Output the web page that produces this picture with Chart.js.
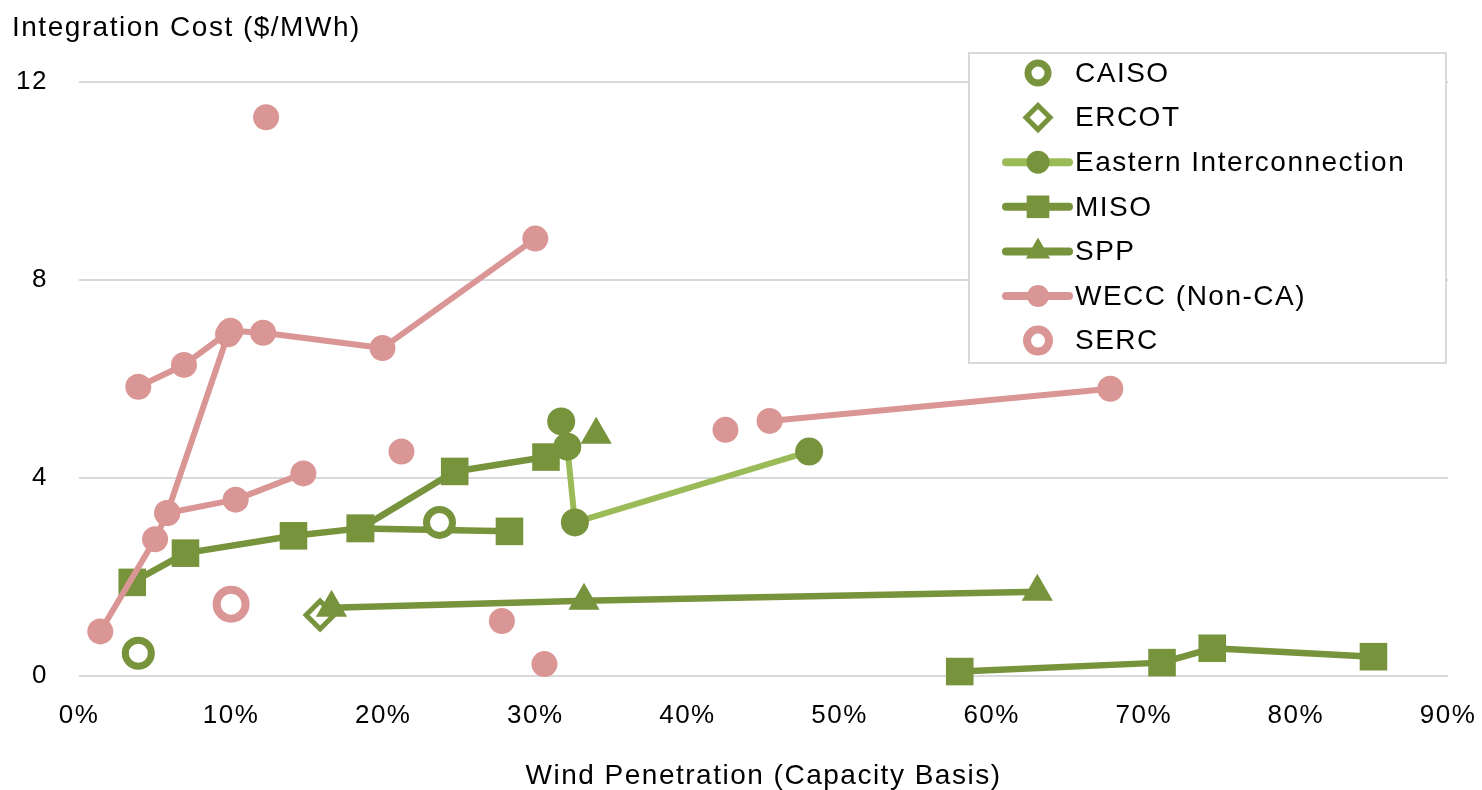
<!DOCTYPE html>
<html>
<head>
<meta charset="utf-8">
<title>Wind Integration Cost</title>
<script src="https://cdn.jsdelivr.net/npm/chart.js"></script>
<style>
  html, body { margin: 0; padding: 0; background: #fff; }
</style>
</head>
<body>
<canvas id="costChart" width="1482" height="790"></canvas>
<script>
// Wind penetration (% of capacity) vs integration cost ($/MWh), one array per study

var xTicks = [0, 10, 20, 30, 40, 50, 60, 70, 80, 90];
var yTicks = [0, 4, 8, 12];

var seriesNames = ['CAISO', 'ERCOT', 'Eastern Interconnection', 'MISO', 'SPP', 'WECC (Non-CA)', 'SERC'];

var caisoPoints = [[3.9, 0.46], [23.7, 3.10]];
var ercotPoints = [[15.85, 1.23]];

var easternLine = [[32.1, 4.63], [32.6, 3.10], [48.0, 4.53]];
var easternSolo = [[31.7, 5.14]];

var misoStudyA = [[3.5, 1.89], [7.0, 2.48], [14.1, 2.83], [18.5, 2.98], [28.3, 2.92]];
var misoStudyB = [[18.5, 2.98], [24.7, 4.13], [30.7, 4.42]];
var misoStudyC = [[57.9, 0.09], [71.2, 0.27], [74.5, 0.56], [85.1, 0.39]];

var sppLine = [[16.6, 1.38], [33.2, 1.52], [63.0, 1.70]];
var sppSolo = [[34.0, 4.87]];

var weccStudyA = [[3.9, 5.84], [6.9, 6.28], [9.95, 6.97], [12.1, 6.93], [19.95, 6.62], [30.0, 8.83]];
var weccStudyB = [[1.4, 0.90], [5.0, 2.76], [5.8, 3.29], [9.8, 6.9]];
var weccStudyC = [[5.8, 3.29], [10.3, 3.56], [14.75, 4.09]];
var weccStudyD = [[45.4, 5.15], [67.8, 5.80]];
var weccSolo = [[12.3, 11.28], [21.2, 4.53], [27.8, 1.11], [30.6, 0.24], [42.5, 4.97]];

var sercPoints = [[10.0, 1.45]];

var darkGreen = '#77933C';
var lightGreen = '#9BBB59';
var pink = '#D99694';
var fontFamily = '"Liberation Sans", Arial, sans-serif';

function toXY(pts) {
    return pts.map(function(p) { return { x: p[0], y: p[1] }; });
}

function series(label, pts, style) {
    return Object.assign({ label: label, data: toXY(pts), clip: false }, style);
}

var styles = {
    caiso: { showLine: false, pointStyle: 'circle', pointRadius: 13, pointBackgroundColor: '#fff',
             pointBorderColor: darkGreen, pointBorderWidth: 7, order: 3 },
    ercot: { showLine: false, pointStyle: 'rectRot', pointRadius: 14, pointBackgroundColor: '#fff',
             pointBorderColor: darkGreen, pointBorderWidth: 5, order: 5 },
    eastern: { showLine: true, borderColor: lightGreen, borderWidth: 6, pointStyle: 'circle', pointRadius: 14,
               pointBackgroundColor: darkGreen, pointBorderColor: darkGreen, pointBorderWidth: 0, order: 4 },
    miso: { showLine: true, borderColor: darkGreen, borderWidth: 6.5, pointStyle: 'rect', pointRadius: 19.5,
            pointBackgroundColor: darkGreen, pointBorderColor: darkGreen, pointBorderWidth: 0, order: 6 },
    spp: { showLine: true, borderColor: darkGreen, borderWidth: 6.5, pointStyle: 'triangle', pointRadius: 18,
           pointBackgroundColor: darkGreen, pointBorderColor: darkGreen, pointBorderWidth: 0, order: 2 },
    wecc: { showLine: true, borderColor: pink, borderWidth: 6, pointStyle: 'circle', pointRadius: 13,
            pointBackgroundColor: pink, pointBorderColor: pink, pointBorderWidth: 0, order: 1 },
    serc: { showLine: false, pointStyle: 'circle', pointRadius: 14.5, pointBackgroundColor: '#fff',
            pointBorderColor: pink, pointBorderWidth: 8, order: 0 }
};

function lineOff(style) {
    return Object.assign({}, style, { showLine: false });
}

var datasets = [
    series(seriesNames[0], caisoPoints, styles.caiso),
    series(seriesNames[1], ercotPoints, styles.ercot),
    series(seriesNames[2], easternLine, styles.eastern),
    series(seriesNames[2], easternSolo, lineOff(styles.eastern)),
    series(seriesNames[3], misoStudyA, styles.miso),
    series(seriesNames[3], misoStudyB, styles.miso),
    series(seriesNames[3], misoStudyC, styles.miso),
    series(seriesNames[4], sppLine, styles.spp),
    series(seriesNames[4], sppSolo, lineOff(styles.spp)),
    series(seriesNames[5], weccStudyA, styles.wecc),
    series(seriesNames[5], weccStudyB, styles.wecc),
    series(seriesNames[5], weccStudyC, styles.wecc),
    series(seriesNames[5], weccStudyD, styles.wecc),
    series(seriesNames[5], weccSolo, lineOff(styles.wecc)),
    series(seriesNames[6], sercPoints, styles.serc)
];

// legend entries: marker + optional line, same look as the series
var legendItems = [
    { style: 'circle', radius: 10, fill: '#fff', border: darkGreen, borderWidth: 7, line: null },
    { style: 'rectRot', radius: 12, fill: '#fff', border: darkGreen, borderWidth: 5, line: null },
    { style: 'circle', radius: 11.5, fill: darkGreen, border: darkGreen, borderWidth: 0, line: lightGreen },
    { style: 'rect', radius: 16, fill: darkGreen, border: darkGreen, borderWidth: 0, line: darkGreen },
    { style: 'triangle', radius: 14, fill: darkGreen, border: darkGreen, borderWidth: 0, line: darkGreen },
    { style: 'circle', radius: 11, fill: pink, border: pink, borderWidth: 0, line: pink },
    { style: 'circle', radius: 11, fill: '#fff', border: pink, borderWidth: 8, line: null }
];

// a little extra spacing so the text matches the wide look of the original
var spacingPlugin = {
    id: 'spacing',
    beforeUpdate: function(chart) { chart.ctx.letterSpacing = '1.5px'; },
    beforeDraw: function(chart) { chart.ctx.letterSpacing = '1.5px'; }
};

var boxLegend = {
    id: 'boxLegend',
    afterDraw: function(chart) {
        var ctx = chart.ctx;
        ctx.save();
        ctx.fillStyle = '#fff';
        ctx.fillRect(969, 53, 477, 310);
        ctx.strokeStyle = '#D9D9D9';
        ctx.lineWidth = 2;
        ctx.strokeRect(969, 53, 477, 310);

        legendItems.forEach(function(item, i) {
            var y = 73 + i * 44.6;
            if (item.line) {
                ctx.strokeStyle = item.line;
                ctx.lineWidth = 8;
                ctx.lineCap = 'round';
                ctx.beginPath();
                ctx.moveTo(1006, y);
                ctx.lineTo(1069, y);
                ctx.stroke();
            }
            ctx.fillStyle = item.fill;
            ctx.strokeStyle = item.border;
            ctx.lineWidth = item.borderWidth;
            Chart.helpers.drawPoint(ctx, {
                pointStyle: item.style, radius: item.radius, rotation: 0, borderWidth: item.borderWidth
            }, 1038, y);
            ctx.fillStyle = '#000';
            ctx.font = '28px ' + fontFamily;
            ctx.textAlign = 'left';
            ctx.textBaseline = 'middle';
            ctx.fillText(seriesNames[i], 1075, y + 1);
        });
        ctx.restore();
    }
};

var ctx = document.getElementById('costChart');
new Chart(ctx, {
    type: 'scatter',
    data: { datasets: datasets },
    plugins: [spacingPlugin, boxLegend],
    options: {
        responsive: false,
        animation: false,
        events: [],
        layout: { padding: { left: 12, right: 34, top: 0, bottom: 0 } },
        elements: {
            line: { borderJoinStyle: 'round', borderCapStyle: 'round', tension: 0 }
        },
        plugins: {
            legend: { display: false },
            tooltip: { enabled: false },
            title: {
                display: true,
                text: 'Integration Cost ($/MWh)',
                align: 'start',
                color: '#000',
                font: { family: fontFamily, size: 28, weight: 'normal', lineHeight: 1.2 },
                padding: { top: 11, bottom: 37 }
            }
        },
        scales: {
            x: {
                type: 'linear',
                min: xTicks[0],
                max: xTicks[xTicks.length - 1],
                afterBuildTicks: function(scale) {
                    scale.ticks = xTicks.map(function(v) { return { value: v }; });
                },
                grid: { display: false, drawTicks: false },
                border: { display: false },
                ticks: {
                    autoSkip: false,
                    maxRotation: 0,
                    padding: 24,
                    color: '#000',
                    font: { family: fontFamily, size: 26 },
                    callback: function(v) { return v + '%'; }
                },
                title: {
                    display: true,
                    text: 'Wind Penetration (Capacity Basis)',
                    color: '#000',
                    font: { family: fontFamily, size: 28, lineHeight: 1.0 },
                    padding: { top: 0, bottom: 0 }
                },
                afterFit: function(scale) {
                    scale.height = 114;
                    // the end labels may hang over the plot edge, as in the original
                    scale.paddingLeft = 0;
                    scale.paddingRight = 0;
                }
            },
            y: {
                min: yTicks[0],
                max: yTicks[yTicks.length - 1],
                afterBuildTicks: function(scale) {
                    scale.ticks = yTicks.map(function(v) { return { value: v }; });
                },
                grid: { color: '#D9D9D9', lineWidth: 2, drawTicks: false },
                border: { display: false },
                ticks: {
                    padding: 31,
                    color: '#000',
                    font: { family: fontFamily, size: 26 }
                },
                afterFit: function(scale) { scale.width = 67; }
            }
        }
    }
});
</script>
</body>
</html>
